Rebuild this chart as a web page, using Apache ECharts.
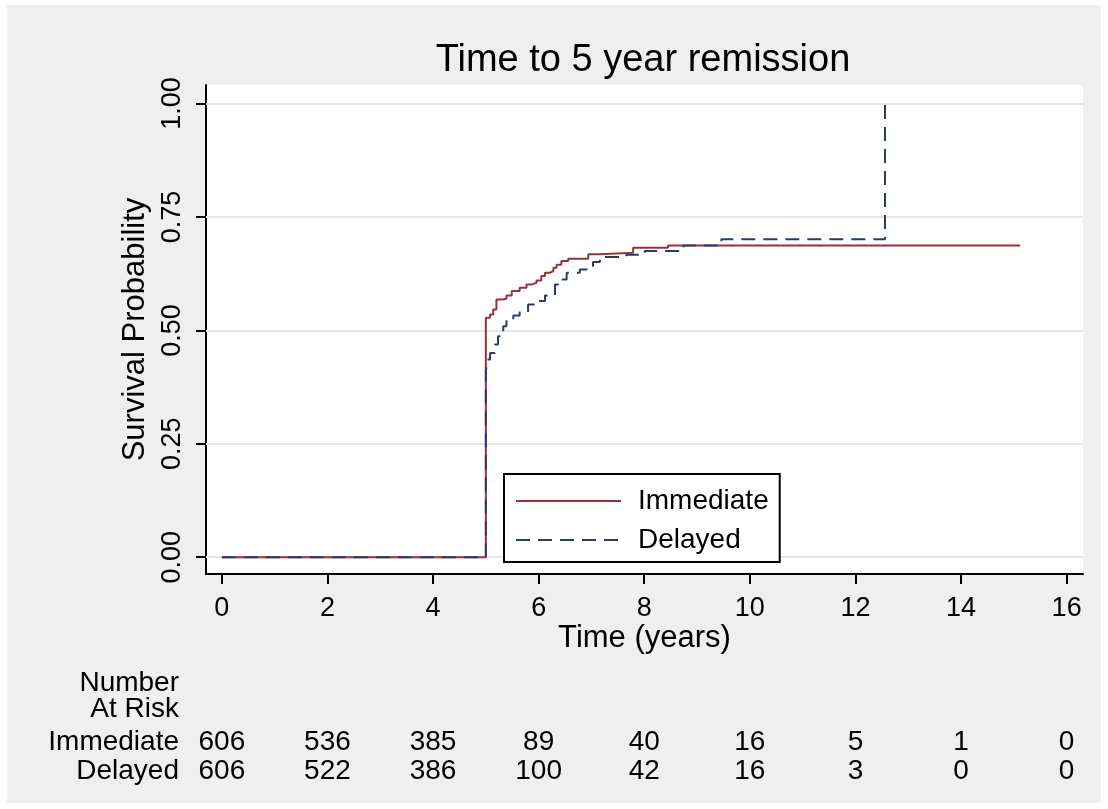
<!DOCTYPE html>
<html><head><meta charset="utf-8">
<script src="https://cdn.jsdelivr.net/npm/echarts@6.0.0/dist/echarts.min.js"></script>
<style>html,body{margin:0;padding:0;background:#fff}#c{width:1108px;height:809px}</style>
</head><body><div id="c"></div><script>
// ---- data ----
const titleText = 'Time to 5 year remission';
const xTicks = [0, 2, 4, 6, 8, 10, 12, 14, 16];
const yTicks = [0, 0.25, 0.5, 0.75, 1];
const immediateT = [0, 5.00, 5.08, 5.14, 5.20, 5.30, 5.39, 5.49, 5.64, 5.77, 5.86, 5.96, 6.05, 6.12, 6.21, 6.28, 6.34, 6.43, 6.56, 6.94, 7.16, 7.79, 8.45, 15.12];
const immediateS = [0, 0.528, 0.535, 0.546, 0.568, 0.570, 0.577, 0.587, 0.594, 0.601, 0.605, 0.610, 0.620, 0.627, 0.631, 0.638, 0.645, 0.653, 0.658, 0.668, 0.671, 0.682, 0.687, 0.687];
const delayedT = [0, 5.00, 5.03, 5.08, 5.17, 5.23, 5.33, 5.39, 5.52, 5.64, 5.80, 5.96, 6.12, 6.31, 6.37, 6.53, 6.78, 6.91, 7.03, 7.16, 7.66, 8.01, 8.74, 9.46, 12.56];
const delayedS = [0, 0.410, 0.436, 0.450, 0.469, 0.487, 0.509, 0.524, 0.533, 0.540, 0.557, 0.565, 0.577, 0.601, 0.612, 0.627, 0.634, 0.642, 0.651, 0.662, 0.667, 0.675, 0.687, 0.701, 1.0];
const riskImmediate = [606, 536, 385, 89, 40, 16, 5, 1, 0];
const riskDelayed = [606, 522, 386, 100, 42, 16, 3, 0, 0];
const seriesNames = ['Immediate', 'Delayed'];
const riskHeader = 'Number\nAt Risk';

// ---- chart ----
const FONT = "'Liberation Sans', Arial, sans-serif";
const chart = echarts.init(document.getElementById('c'), null, {renderer: 'canvas'});
const X_MIN = -0.3, X_MAX = 16.31, Y_MIN = -0.037, Y_MAX = 1.041;
const RISK_OFFSETS = [168, 197];
const AXIS_Y = 574;

function riskAxis(values, offset) {
  return {
    type: 'value', gridIndex: 0, position: 'bottom', offset: offset,
    min: X_MIN, max: X_MAX,
    axisLine: {show: false}, axisTick: {show: false}, splitLine: {show: false},
    axisLabel: {
      customValues: xTicks, margin: 0, verticalAlign: 'middle',
      fontSize: 28, color: '#000', fontFamily: FONT,
      formatter: v => String(values[xTicks.indexOf(Math.round(v))])
    }
  };
}

function rowText(text, y) {
  return {type: 'text', silent: true, z: 10,
    style: {text: text, x: 179, y: y, textAlign: 'right', align: 'right',
            textVerticalAlign: 'middle', verticalAlign: 'middle',
            font: "28px 'Liberation Sans', Arial, sans-serif", lineHeight: 26, fill: '#000'}};
}

const option = {
  backgroundColor: '#ffffff',
  animation: false,
  textStyle: {fontFamily: FONT},
  graphic: [
    {type: 'rect', left: 7, top: 5, z: -10, silent: true,
     shape: {width: 1094, height: 798}, style: {fill: '#efefef'}},
    rowText(riskHeader, 696),
    rowText(seriesNames[0], AXIS_Y + RISK_OFFSETS[0]),
    rowText(seriesNames[1], AXIS_Y + RISK_OFFSETS[1])
  ],
  title: {
    text: titleText, left: 643, top: 42, textAlign: 'center', padding: 0,
    textStyle: {fontSize: 38, fontWeight: 'normal', color: '#000', fontFamily: FONT}
  },
  legend: {
    data: seriesNames, orient: 'vertical', left: 504, top: 474,
    backgroundColor: '#ffffff', borderColor: '#000', borderWidth: 2,
    padding: [13, 11, 8, 11], itemWidth: 105, itemHeight: 14, itemGap: 11,
    itemStyle: {opacity: 0},
    textStyle: {fontSize: 28, color: '#000', fontFamily: FONT, lineHeight: 28, padding: [0, 0, 0, 12]}
  },
  grid: {
    left: 206, top: 85, right: 25, bottom: 235,
    show: true, backgroundColor: '#ffffff', borderWidth: 0, containLabel: false
  },
  xAxis: [
    {
      type: 'value', min: X_MIN, max: X_MAX, position: 'bottom',
      axisLine: {show: true, onZero: false, lineStyle: {color: '#000', width: 2}},
      axisTick: {show: true, customValues: xTicks, length: 10, lineStyle: {color: '#000', width: 2}},
      axisLabel: {customValues: xTicks, margin: 21, fontSize: 27, color: '#000', fontFamily: FONT},
      splitLine: {show: false},
      name: 'Time (years)', nameLocation: 'middle', nameGap: 49, nameMoveOverlap: false,
      nameTextStyle: {fontSize: 31, color: '#000', fontFamily: FONT}
    },
    riskAxis(riskImmediate, RISK_OFFSETS[0]),
    riskAxis(riskDelayed, RISK_OFFSETS[1])
  ],
  yAxis: {
    type: 'value', min: Y_MIN, max: Y_MAX,
    axisLine: {show: true, onZero: false, lineStyle: {color: '#000', width: 2}},
    axisTick: {show: true, customValues: yTicks, length: 10, lineStyle: {color: '#000', width: 2}},
    axisLabel: {customValues: yTicks, rotate: 90, margin: 20, fontSize: 27, color: '#000', fontFamily: FONT,
                formatter: v => v.toFixed(2)},
    splitLine: {show: false},
    name: 'Survival Probability', nameLocation: 'middle', nameGap: 51, nameRotate: 90,
    nameTextStyle: {fontSize: 31, color: '#000', fontFamily: FONT}
  },
  series: [
    {
      name: seriesNames[0], type: 'line', step: 'end', symbol: 'none', z: 3,
      xAxisIndex: 0, yAxisIndex: 0,
      data: immediateT.map((t, i) => [t, immediateS[i]]),
      lineStyle: {color: '#97323d', width: 2, type: 'solid'},
      itemStyle: {color: '#97323d'},
      markLine: {
        silent: true, symbol: ['none', 'none'], z: 1, animation: false,
        label: {show: false},
        lineStyle: {color: '#e6e6e6', width: 2, type: 'solid'},
        data: yTicks.map(v => ({yAxis: v}))
      }
    },
    {
      name: seriesNames[1], type: 'line', step: 'end', symbol: 'none', z: 4,
      xAxisIndex: 0, yAxisIndex: 0,
      data: delayedT.map((t, i) => [t, delayedS[i]]),
      lineStyle: {color: '#2b3a67', width: 2, type: [14, 8]},
      itemStyle: {color: '#2b3a67'}
    }
  ]
};
chart.setOption(option);
</script></body></html>
